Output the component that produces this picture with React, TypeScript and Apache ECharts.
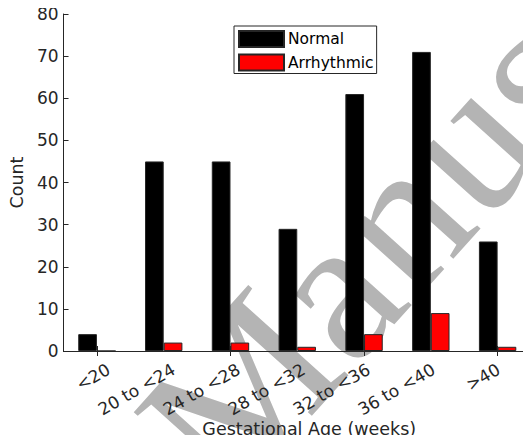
import React, { useEffect, useRef } from "react";
import * as echarts from "echarts";

const categories = ["<20", "20 to <24", "24 to <28", "28 to <32", "32 to <36", "36 to <40", ">40"];
const normalValues = [4, 45, 45, 29, 61, 71, 26];
const arrhythmicValues = [0, 2, 2, 1, 4, 9, 1];
const yTicks = { min: 0, max: 80, interval: 10 };

const FONT = "DejaVu Sans";
const AX = "#262626";
const LEFT = 62;
const RIGHT = -9.2;
const TOP = 14;
const BOTTOM = 88;
const LABEL_SHIFT = 14;

export default function App() {
  const ref = useRef<HTMLDivElement>(null);
  useEffect(() => {
    if (!ref.current) return;
    const chart = echarts.init(ref.current, undefined, { renderer: "svg" });
    const wmAngle = (48 * Math.PI) / 180;
    chart.setOption({
      animation: false,
      backgroundColor: "#ffffff",
      textStyle: { fontFamily: FONT },
      graphic: [
        {
          type: "text",
          z: -10,
          silent: true,
          x: 366,
          y: 252,
          rotation: wmAngle,
          style: {
            text: "Manus",
            fontFamily: "Liberation Serif",
            fontSize: 206,
            fill: "#b4b4b4",
            textAlign: "center",
            textVerticalAlign: "middle",
          },
        },
      ],
      grid: [
        { left: LEFT, right: RIGHT, top: TOP, bottom: BOTTOM, containLabel: false },
        { left: LEFT + LABEL_SHIFT, right: RIGHT - LABEL_SHIFT, top: TOP, bottom: BOTTOM, containLabel: false },
      ],
      legend: {
        show: true,
        left: 234,
        top: 26,
        orient: "vertical",
        icon: "rect",
        itemWidth: 45,
        itemHeight: 16,
        itemGap: 5.5,
        padding: [4, 3, 2, 4],
        borderColor: AX,
        borderWidth: 1,
        backgroundColor: "#fff",
        textStyle: { fontFamily: FONT, fontSize: 15.5, lineHeight: 16, color: "#000", padding: [0, 0, 0, -1] },
        data: ["Normal", "Arrhythmic"],
      },
      xAxis: [
        {
          type: "category",
          gridIndex: 0,
          data: categories,
          position: "bottom",
          name: "Gestational Age (weeks)",
          nameLocation: "middle",
          nameGap: 69,
          nameTextStyle: { fontFamily: FONT, fontSize: 17.5, color: AX, padding: [0, 0, 0, 24] },
          axisLine: { lineStyle: { color: AX, width: 1 } },
          axisTick: { show: true, inside: true, alignWithLabel: true, length: 5, lineStyle: { color: AX } },
          axisLabel: { show: false },
        },
        {
          type: "category",
          gridIndex: 0,
          data: categories,
          position: "top",
          axisLine: { lineStyle: { color: AX, width: 1 } },
          axisTick: { show: true, inside: true, alignWithLabel: true, length: 5, lineStyle: { color: AX } },
          axisLabel: { show: false },
        },
        {
          type: "category",
          gridIndex: 1,
          data: categories,
          position: "bottom",
          axisLine: { show: false },
          axisTick: { show: false },
          axisLabel: { rotate: 30, fontFamily: FONT, fontSize: 17, color: AX, margin: 13, interval: 0 },
        },
      ],
      yAxis: [
        {
          type: "value",
          gridIndex: 0,
          min: yTicks.min,
          max: yTicks.max,
          interval: yTicks.interval,
          name: "Count",
          nameLocation: "middle",
          nameGap: 35,
          nameTextStyle: { fontFamily: FONT, fontSize: 17.5, color: AX },
          axisLine: { show: true, lineStyle: { color: AX, width: 1 } },
          axisTick: { show: true, inside: true, length: 5, lineStyle: { color: AX } },
          axisLabel: { fontFamily: FONT, fontSize: 17, color: AX, margin: 5 },
          splitLine: { show: false },
        },
        {
          type: "value",
          gridIndex: 0,
          min: yTicks.min,
          max: yTicks.max,
          interval: yTicks.interval,
          position: "right",
          axisLine: { show: true, lineStyle: { color: AX, width: 1 } },
          axisTick: { show: true, inside: true, length: 5, lineStyle: { color: AX } },
          axisLabel: { show: false },
          splitLine: { show: false },
        },
        {
          type: "value",
          gridIndex: 1,
          min: yTicks.min,
          max: yTicks.max,
          show: false,
        },
      ],
      series: [
        {
          name: "Normal",
          type: "bar",
          xAxisIndex: 0,
          yAxisIndex: 0,
          data: normalValues,
          barWidth: "28%",
          barGap: "0%",
          z: 2,
          itemStyle: { color: "#000000", borderColor: "#262626", borderWidth: 1 },
        },
        {
          name: "Arrhythmic",
          type: "bar",
          xAxisIndex: 0,
          yAxisIndex: 0,
          data: arrhythmicValues,
          barWidth: "28%",
          barGap: "0%",
          z: 2,
          itemStyle: { color: "#ff0000", borderColor: "#262626", borderWidth: 1 },
        },
      ],
    });
    return () => chart.dispose();
  }, []);
  return <div ref={ref} style={{ width: 531, height: 443, margin: -8 }} />;
}
